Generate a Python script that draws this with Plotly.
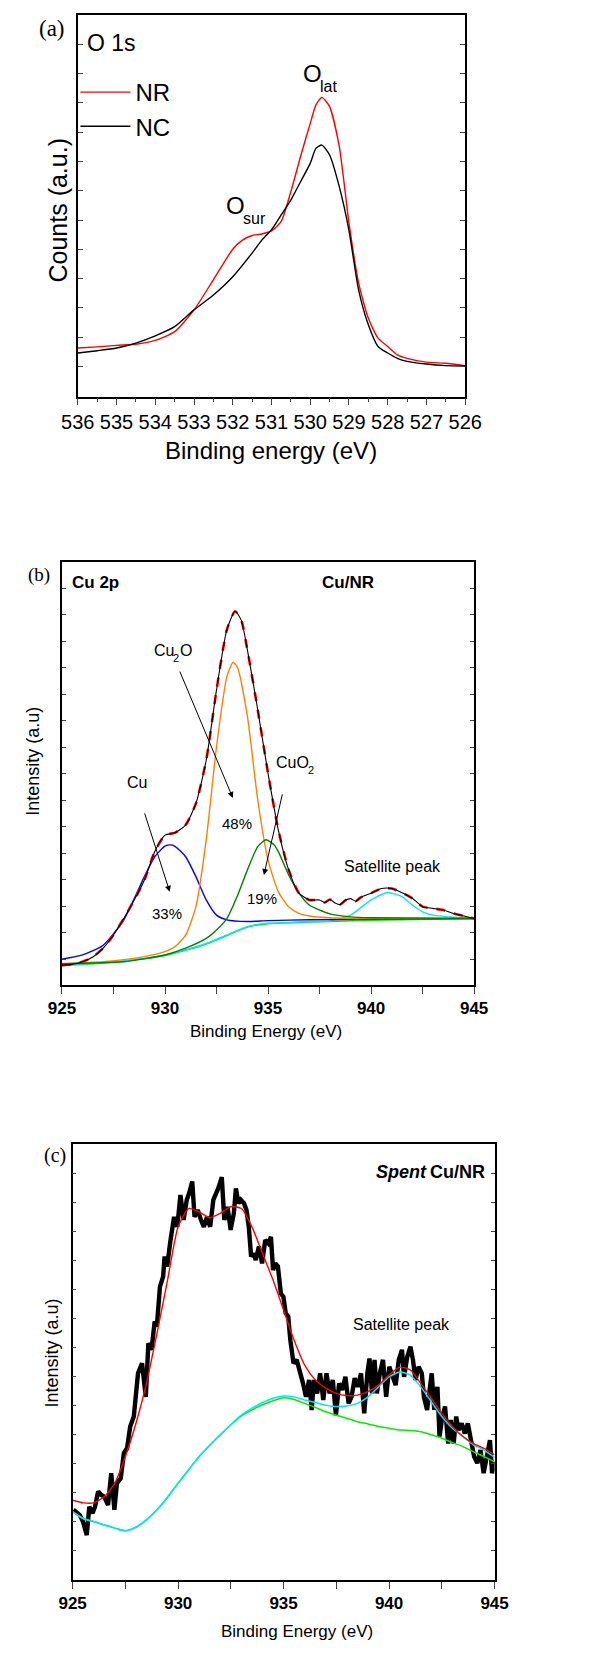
import plotly.graph_objects as go

W, H = 592, 1671
SANS = "Liberation Sans"
SERIF = "Liberation Serif"


def px(x):
    return x / W


def py(y):
    return 1 - y / H


# ---------------- Panel (a): O 1s ----------------
a_x_nr = [536, 535.5, 535, 534.5, 534, 533.5, 533, 532.5, 532, 531.75, 531.5, 531.25, 531,
          530.75, 530.5, 530.25, 530, 529.85, 529.7, 529.5, 529.25, 529, 528.75, 528.5,
          528.25, 528, 527.75, 527.5, 527, 526.5, 526]
a_y_nr = [12.7, 13.0, 13.4, 13.7, 14.7, 17.0, 22.7, 30.6, 38.6, 41.0, 42.2, 42.6, 43.4,
          45.9, 53.7, 62.9, 71.6, 76.5, 78.4, 76.0, 65.5, 45.5, 29.7, 20.5,
          15.3, 13.1, 10.9, 10.0, 9.0, 8.7, 8.1]
a_x_nc = [536, 535.5, 535, 534.5, 534, 533.5, 533, 532.5, 532, 531.5, 531.25, 531, 530.75,
          530.5, 530.25, 530, 529.85, 529.7, 529.5, 529.25, 529, 528.75, 528.5, 528.25,
          528, 527.75, 527.5, 527, 526.5, 526]
a_y_nc = [11.4, 12.0, 12.7, 14.0, 15.9, 18.3, 22.7, 26.6, 31.4, 37.6, 41.0, 43.7, 47.6,
          51.5, 56.3, 61.1, 65.1, 65.9, 63.3, 55.0, 43.5, 27.9, 18.8, 13.1,
          11.4, 10.0, 9.2, 8.5, 8.1, 8.0]

# ---------------- Panel (b): Cu 2p, Cu/NR ----------------
b_x_env = [925, 925.5, 926, 926.5, 927, 927.5, 928, 928.5, 929, 929.5, 930, 930.5, 931,
           931.5, 932, 932.5, 933, 933.4, 933.7, 934, 934.5, 935, 935.5, 936, 936.5, 937,
           937.5, 937.75, 938, 938.25, 938.5, 938.75, 939, 939.25, 939.5, 940, 940.5, 941,
           941.5, 942, 942.5, 943, 943.5, 944, 944.5, 945]
b_y_env = [4.7, 4.9, 5.5, 6.6, 8.7, 11.8, 15.7, 20.0, 24.8, 31.5, 35.4, 36.0, 37.8,
           42.9, 53.1, 69.7, 83.9, 88.3, 86.2, 79.1, 65.0, 50.0, 36.6, 27.2, 21.7, 20.1,
           20.1, 19.5, 20.2, 19.4, 19.0, 20.0, 20.4, 19.8, 20.7, 21.7, 22.8, 22.8,
           21.8, 20.5, 18.5, 18.1, 17.7, 16.9, 16.3, 15.7]

b_x_cu = [925, 926, 927, 928, 929, 929.5, 930, 930.3, 930.5, 931, 931.5, 932, 932.5, 933,
          934, 935, 937, 940, 945]
b_y_cu = [6.1, 7.1, 9.4, 15.4, 25.6, 30.3, 32.8, 33.1, 32.7, 30.3, 25.6, 20.1, 16.5, 15.4,
          15.0, 15.2, 15.4, 15.5, 15.7]

b_x_cu2o = [925, 927, 929, 930, 930.5, 931, 931.5, 932, 932.5, 933, 933.3, 933.5, 934,
            934.5, 935, 935.5, 936, 936.5, 937, 938, 940, 945]
b_y_cu2o = [5.1, 5.5, 6.7, 7.9, 9.1, 11.8, 18.5, 34.3, 56.3, 72.8, 76.2, 75.2, 63.4,
            43.7, 29.5, 22.0, 18.5, 16.9, 16.3, 15.9, 15.7, 15.7]

b_x_cuo2 = [925, 928, 930, 931, 932, 932.5, 933, 933.5, 934, 934.5, 934.9, 935.3, 935.5,
            936, 936.5, 937, 938, 939, 940, 945]
b_y_cuo2 = [5.0, 5.5, 7.1, 8.7, 11.0, 13.0, 15.7, 20.9, 27.2, 32.7, 34.3, 33.1, 31.5,
            26.0, 21.7, 18.9, 16.8, 16.1, 15.9, 15.7]

b_x_sat = [925, 927, 929, 930, 931, 932, 933, 934, 935, 936, 937, 938, 939, 940, 940.8,
           941.5, 942, 942.5, 943, 944, 945]
b_y_sat = [4.7, 5.3, 6.3, 7.1, 8.3, 9.8, 11.8, 13.8, 14.6, 14.7, 15.0, 15.1, 16.5, 20.1,
           21.8, 20.9, 18.9, 17.3, 16.5, 16.0, 15.7]

b_x_bg = [925, 927, 929, 930, 931, 932, 933, 934, 935, 936, 937, 938, 940, 945]
b_y_bg = [4.6, 5.2, 6.2, 7.0, 8.2, 9.7, 11.7, 13.7, 14.5, 14.7, 14.9, 15.0, 15.3, 15.7]

# ---------------- Panel (c): Spent Cu/NR ----------------
c_x_raw = [925.04, 925.34, 925.49, 925.67, 925.79, 925.94, 926.06, 926.21, 926.36, 926.50,
           926.68, 926.83, 926.98, 927.10, 927.28, 927.43, 927.58, 927.73, 927.90, 928.10,
           928.29, 928.47, 928.59, 928.74, 928.89, 928.99, 929.14, 929.29, 929.36, 929.48,
           929.63, 929.81, 929.96, 930.11, 930.26, 930.41, 930.52, 930.67, 930.78, 930.93,
           931.08, 931.22, 931.37, 931.52, 931.67, 931.90, 932.07, 932.19, 932.34, 932.49,
           932.64, 932.74, 932.86, 932.97, 933.12, 933.24, 933.35, 933.46, 933.56, 933.68,
           933.83, 933.98, 934.13, 934.28, 934.40, 934.50, 934.61, 934.73, 934.87, 934.99,
           935.10, 935.22, 935.32, 935.47, 935.62, 935.77, 935.92, 936.06, 936.21, 936.33,
           936.44, 936.59, 936.73, 936.88, 937.03, 937.18, 937.33, 937.48, 937.63, 937.78,
           937.93, 938.08, 938.22, 938.37, 938.52, 938.67, 938.82, 938.97, 939.07, 939.19,
           939.31, 939.42, 939.56, 939.71, 939.86, 940.01, 940.16, 940.31, 940.46, 940.61,
           940.71, 940.86, 941.01, 941.13, 941.25, 941.40, 941.55, 941.65, 941.80, 941.90,
           942.02, 942.14, 942.29, 942.39, 942.50, 942.65, 942.80, 942.92, 943.06, 943.18,
           943.29, 943.44, 943.59, 943.73, 943.88, 944.03, 944.18, 944.33, 944.48, 944.63,
           944.78, 944.88, 945.00]
c_y_raw = [16.1, 14.9, 13.4, 10.3, 16.8, 15.3, 16.8, 20.3, 19.5, 19.1,
           17.2, 24.5, 16.1, 22.2, 23.3, 29.1, 30.2, 35.2, 37.5, 47.4,
           49.7, 42.0, 54.3, 52.8, 59.3, 58.1, 67.3, 69.6, 74.2, 71.9,
           77.6, 83.3, 81.0, 88.3, 82.6, 87.2, 88.7, 91.4, 83.3, 84.9,
           82.6, 81.0, 83.3, 81.0, 87.2, 89.8, 92.4, 82.6, 85.6, 80.3,
           84.1, 89.8, 86.4, 87.2, 86.4, 84.9, 81.0, 74.2, 74.9, 73.4,
           76.5, 72.6, 78.0, 77.2, 78.7, 71.1, 72.6, 71.9, 65.7, 65.0,
           61.2, 60.4, 55.0, 49.7, 50.5, 48.2, 45.1, 42.0, 45.9, 39.0,
           45.9, 42.8, 47.4, 41.3, 47.4, 42.8, 45.9, 37.8, 45.1, 43.6,
           46.6, 40.5, 42.0, 46.3, 44.3, 47.4, 38.2, 47.4, 50.8, 42.8,
           50.5, 42.8, 47.4, 50.5, 42.0, 48.9, 46.6, 44.7, 50.5, 52.8,
           46.6, 51.2, 53.5, 50.5, 45.9, 48.9, 47.4, 42.0, 39.0, 42.8,
           47.4, 39.0, 44.3, 32.9, 36.7, 39.8, 31.3, 36.7, 31.3, 37.5,
           34.4, 35.9, 33.6, 35.9, 32.1, 28.3, 26.8, 29.8, 24.5, 29.1,
           32.1, 24.5, 27.1]

c_x_fit = [925, 925.5, 926, 926.5, 927, 927.5, 928, 928.5, 929, 929.5, 930, 930.5, 931,
           931.5, 932, 932.5, 933, 933.5, 934, 934.5, 935, 935.5, 936, 936.5, 937, 937.5,
           938, 938.5, 939, 939.5, 940, 940.5, 941, 941.5, 942, 942.5, 943, 943.5, 944,
           944.5, 945]
c_y_fit = [18.3, 17.7, 17.7, 19.1, 22.2, 28.3, 35.9, 45.1, 56.6, 68.8, 81.0, 85.2, 84.4,
           83.1, 84.1, 85.6, 85.2, 81.0, 74.9, 68.8, 61.9, 55.0, 49.3, 45.9, 44.0, 42.8,
           42.3, 42.4, 43.2, 44.7, 47.0, 48.8, 48.2, 45.1, 41.7, 38.2, 35.2, 32.9, 31.3,
           30.2, 28.7]
c_y_sat = [15.7, 14.1, 13.4, 12.6, 11.9, 11.3, 12.1, 13.8, 16.1, 19.0, 22.2, 25.3, 28.3,
           30.9, 33.3, 35.6, 37.8, 39.4, 40.7, 41.7, 42.2, 42.0, 41.3, 40.7, 40.1, 39.8,
           39.9, 40.5, 42.0, 44.3, 46.6, 47.7, 47.0, 44.3, 40.9, 37.5, 34.8, 32.9, 31.0,
           29.8, 28.1]
c_y_bg = [15.7, 14.1, 13.4, 12.6, 11.9, 11.3, 12.1, 13.8, 16.1, 19.0, 22.2, 25.3, 28.3,
          30.9, 33.3, 35.6, 37.6, 39.0, 40.2, 41.1, 41.8, 41.4, 40.5, 39.6, 38.6, 37.8,
          37.1, 36.3, 35.8, 35.2, 34.8, 34.4, 34.3, 34.0, 33.3, 32.5, 31.5, 30.6, 29.4,
          28.3, 27.1]

fig = go.Figure()

fig.add_trace(go.Scatter(x=a_x_nr, y=a_y_nr, mode="lines", name="NR",
                         line=dict(color="#ff0000", width=1.4, shape="spline", smoothing=0.6),
                         xaxis="x", yaxis="y"))
fig.add_trace(go.Scatter(x=a_x_nc, y=a_y_nc, mode="lines", name="NC",
                         line=dict(color="#000000", width=1.4, shape="spline", smoothing=0.6),
                         xaxis="x", yaxis="y"))


def bline(x, y, color, width=1.4, dash=None):
    fig.add_trace(go.Scatter(x=x, y=y, mode="lines", showlegend=False,
                             line=dict(color=color, width=width, dash=dash,
                                       shape="spline", smoothing=0.6),
                             xaxis="x2", yaxis="y2"))


bline(b_x_bg, b_y_bg, "#00ee00", 1.6)
bline(b_x_sat, b_y_sat, "#00e5ff", 1.4)
bline(b_x_cu, b_y_cu, "#0000ff", 1.4)
bline(b_x_cu2o, b_y_cu2o, "#ff8000", 1.4)
bline(b_x_cuo2, b_y_cuo2, "#008000", 1.4)
bline(b_x_env, b_y_env, "#ff0000", 2.6, "dash")
bline(b_x_env, b_y_env, "#000000", 1.1)


def cline(x, y, color, width=1.4, smooth=True):
    fig.add_trace(go.Scatter(x=x, y=y, mode="lines", showlegend=False,
                             line=dict(color=color, width=width,
                                       shape="spline" if smooth else "linear",
                                       smoothing=0.6 if smooth else None),
                             xaxis="x3", yaxis="y3"))


cline(c_x_raw, c_y_raw, "#000000", 4.4, smooth=False)
cline(c_x_fit, c_y_bg, "#00ee00", 1.5)
cline(c_x_fit, c_y_sat, "#00e5ff", 1.5)
cline(c_x_fit, c_y_fit, "#ff0000", 1.4)

axis_common = dict(showline=True, linecolor="black", linewidth=1.5, mirror=True,
                   showgrid=False, zeroline=False)

fig.update_layout(
    width=W, height=H,
    margin=dict(l=0, r=0, t=0, b=0),
    paper_bgcolor="white", plot_bgcolor="white",
    font=dict(family=SANS, color="black"),
    showlegend=True,
    legend=dict(x=px(62), y=py(70), xanchor="left", yanchor="top",
                font=dict(family=SANS, size=24, color="black"),
                bgcolor="rgba(0,0,0,0)", itemwidth=50, tracegroupgap=0),
    xaxis=dict(domain=[px(64.5), px(475.5)], range=[536, 526], anchor="y",
               ticks="outside", ticklen=7, tickwidth=1.2, tick0=526, dtick=1,
               minor=dict(dtick=0.5, ticks="outside", ticklen=4, tickwidth=1.2),
               tickfont=dict(family=SANS, size=20, color="black"), **axis_common),
    yaxis=dict(domain=[py(396.5), py(15)], range=[0, 100], anchor="x",
               ticks="inside", ticklen=5, tickwidth=1, tick0=7.86, dtick=7.68,
               showticklabels=False, **{**axis_common, "mirror": "ticks"}),
    xaxis2=dict(domain=[px(47.7), px(485)], range=[925, 945], anchor="y2",
                ticks="outside", ticklen=7, tickwidth=1.2, tick0=925, dtick=5,
                minor=dict(dtick=2.5, ticks="outside", ticklen=7, tickwidth=1.2),
                tickfont=dict(family=SANS, size=17, color="black", weight="bold"),
                **axis_common),
    yaxis2=dict(domain=[py(985), py(561.7)], range=[0, 100], anchor="x2",
                ticks="inside", ticklen=4, tickwidth=1, tick0=6.06, dtick=6.26,
                showticklabels=False, **{**axis_common, "mirror": "ticks"}),
    xaxis3=dict(domain=[px(59), px(506.7)], range=[925, 945], anchor="y3",
                ticks="outside", ticklen=7, tickwidth=1.2, tick0=925, dtick=5,
                minor=dict(dtick=2.5, ticks="outside", ticklen=7, tickwidth=1.2),
                tickfont=dict(family=SANS, size=17, color="black", weight="bold"),
                **axis_common),
    yaxis3=dict(domain=[py(1580), py(1144)], range=[0, 100], anchor="x3",
                ticks="inside", ticklen=4, tickwidth=1, tick0=6.73, dtick=6.65,
                showticklabels=False, **{**axis_common, "mirror": "ticks"}),
)

ann = []


def text(x, y, s, size, family=SANS, xanchor="center", yanchor="middle", textangle=0,
         xref="paper", yref="paper", weight="normal", style="normal", xshift=0):
    ann.append(dict(x=x, y=y, xref=xref, yref=yref, text=s, showarrow=False,
                    xanchor=xanchor, yanchor=yanchor, textangle=textangle,
                    borderpad=0, xshift=xshift,
                    font=dict(family=family, size=size, color="black",
                              weight=weight, style=style)))


def arrow(tx, ty, hx, hy):
    ann.append(dict(x=hx, y=hy, ax=tx, ay=ty, xref="x2", yref="y2", axref="x2", ayref="y2",
                    text="", showarrow=True, arrowhead=2, arrowsize=1.2, arrowwidth=1,
                    arrowcolor="black"))


# Panel a texts
text(px(37), py(28), "(a)", 23, family=SERIF)
text(px(73), py(43), "O 1s", 23, xanchor="left")
text(px(323), py(73), "O", 24, xanchor="right", xshift=2)
text(px(323), py(86), "lat", 16, xanchor="left", xshift=-2)
text(px(241), py(206), "O", 24, xanchor="right", xshift=2)
text(px(241), py(219), "sur", 16, xanchor="left", xshift=-2)
text(px(269.5), py(450), "Binding energy (eV)", 24)
text(px(43), py(210), "Counts (a.u.)", 25, textangle=-90)

# Panel b texts
text(px(23), py(575), "(b)", 19, family=SERIF)
text(px(57), py(582), "Cu 2p", 17, xanchor="left", weight="bold")
text(px(322), py(582), "Cu/NR", 17, xanchor="left", weight="bold")
text(px(264.7), py(1031.7), "Binding Energy (eV)", 17)
text(px(17), py(761.7), "Intensity (a.u)", 18, textangle=-90)
text(px(165), py(650), "Cu", 16, xanchor="right", xshift=2)
text(px(165), py(658), "2", 11, xanchor="left", xshift=-1)
text(px(172), py(650), "O", 16, xanchor="left")
text(px(127), py(783), "Cu", 16)
text(px(309), py(762), "CuO", 16, xanchor="right", xshift=2)
text(px(309), py(770), "2", 11, xanchor="left", xshift=-1)
text(px(233), py(823), "48%", 15)
text(px(159), py(913), "33%", 15)
text(px(260), py(898), "19%", 15)
text(px(398), py(867), "Satellite peak", 16)
arrow(930.69, 74.4, 933.29, 44.2)
arrow(928.99, 40.9, 930.23, 22.0)
arrow(935.71, 45.4, 934.80, 26.0)

# Panel c texts
text(px(40), py(1155), "(c)", 20, family=SERIF)
text(px(436), py(1172), "Spent", 18, xanchor="right", weight="bold", style="italic")
text(px(498), py(1172), "Cu/NR", 18, xanchor="right", weight="bold")
text(px(408), py(1324), "Satellite peak", 16)
text(px(297), py(1631.7), "Binding Energy (eV)", 17)
text(px(36.7), py(1353), "Intensity (a.u)", 18, textangle=-90)

fig.update_layout(annotations=ann)

fig.write_html("out.html")
